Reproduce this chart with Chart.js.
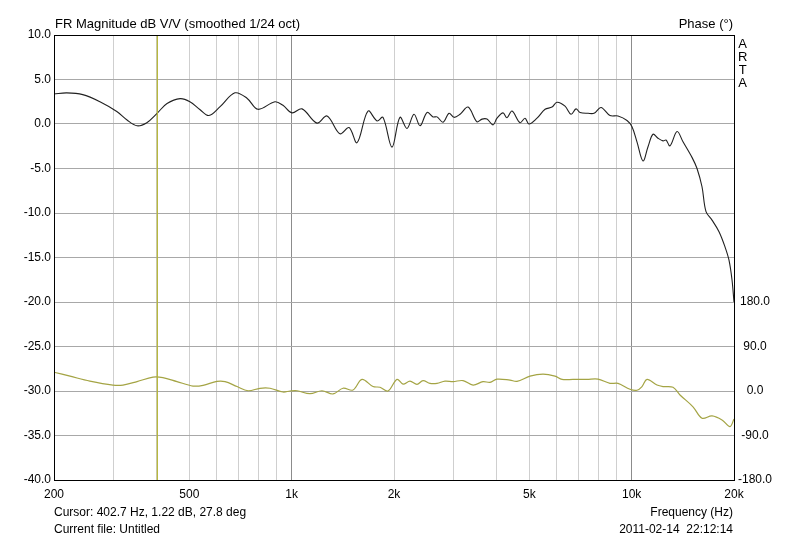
<!DOCTYPE html>
<html lang="en">
<head>
    <meta charset="UTF-8">
    <title>FR Magnitude</title>
    <script src="https://cdn.jsdelivr.net/npm/chart.js"></script>
    <style>
        body { margin: 0; background: #fff; }
        #wrap { position: relative; width: 800px; height: 540px; font-family: "Liberation Sans", Arial, sans-serif; font-size: 12px; color: #000; }
        #chart { position: absolute; left: 0; top: 0; }
        .txt { position: absolute; line-height: 14px; white-space: pre; }
        .big { font-size: 13px; }
    </style>
</head>
<body>
<div id="wrap">
    <canvas id="chart" width="800" height="540"></canvas>
    <div class="txt big" style="left:55px; top:17px;">FR Magnitude dB V/V (smoothed 1/24 oct)</div>
    <div class="txt big" style="right:67px; top:17px;">Phase (°)</div>
    <div class="txt big" style="left:738px; top:37px; line-height:13px; text-align:center;">A<br>R<br>T<br>A</div>
    <div class="txt" style="left:54px; top:505px;">Cursor: 402.7 Hz, 1.22 dB, 27.8 deg</div>
    <div class="txt" style="left:54px; top:522px;">Current file: Untitled</div>
    <div class="txt" style="right:67px; top:505px;">Frequency (Hz)</div>
    <div class="txt" style="right:67px; top:522px;">2011-02-14  22:12:14</div>
</div>

<script>
    // magnitude response (Hz, dB)
    const magFreq = [200, 218, 243, 273, 306, 328, 351, 375, 402, 430, 470, 502, 538, 571, 616, 681, 739, 796, 893, 943,
        1002, 1073, 1187, 1271, 1387, 1475, 1557, 1677, 1783, 1856, 1973, 2082, 2184, 2290, 2386, 2502, 2605, 2677, 2788, 2904,
        3004, 3128, 3303, 3508, 3630, 3754, 3912, 4018, 4185, 4298, 4447, 4695, 4856, 4989, 5268, 5563, 5831, 6032, 6369, 6633,
        6861, 7050, 7443, 7750, 8126, 8636, 9118, 9691, 10024, 10367, 10800, 11172, 11557, 11955, 12367, 12619, 12966, 13600, 14159, 15049,
        15569, 16104, 16548, 17234, 18070, 18816, 19334, 19730, 20000];
    const magDb = [3.37, 3.5, 3.3, 2.5, 1.4, 0.45, -0.2, 0.15, 1.2, 2.3, 2.85, 2.5, 1.6, 0.95, 1.95, 3.5, 2.9, 1.65, 2.5, 2.1,
        1.25, 1.7, 0.1, 0.9, -1.1, -0.4, -2.1, 1.45, 0.35, 0.75, -2.6, 0.75, -0.5, 1.1, -0.2, 1.3, 0.8, 0.8, 0.2, 1.2,
        0.75, 1.1, 1.9, 0.25, 0.55, 0.55, -0.1, 0.65, 1.25, 0.7, 1.45, 0.15, 0.65, 0.0, 0.65, 1.65, 1.9, 2.45, 2.0, 1.1,
        1.7, 1.3, 1.2, 1.2, 1.85, 0.95, 0.9, 0.4, -0.3, -2.0, -4.15, -2.55, -1.15, -1.6, -1.9, -1.8, -2.45, -0.85, -2.0, -3.75,
        -5.0, -7.05, -9.85, -10.8, -12.1, -13.8, -15.3, -17.5, -20.0];

    // phase (Hz, deg)
    const phaseFreq = [200, 223, 255, 298, 319, 351, 391, 418, 460, 513, 549, 603, 637, 691, 744, 807, 864, 943, 989, 1037,
        1132, 1228, 1323, 1416, 1515, 1610, 1735, 1819, 1920, 2041, 2126, 2229, 2337, 2434, 2552, 2677, 2825, 2983, 3192, 3416,
        3655, 3832, 4018, 4388, 4600, 5024, 5487, 5950, 6240, 6722, 7390, 7962, 8636, 9118, 9888, 10367, 10727, 11096, 11872, 12367,
        13232, 13875, 15151, 16104, 17234, 18440, 19464, 20000];
    const phaseDeg = [38, 30, 20, 12, 12, 19, 28, 27, 19, 10, 11.5, 19.5, 19, 9, 0.5, 5.5, 5.5, -2, 0, 0.5,
        -5.5, 0.5, -6, 5.5, 2, 23.5, 9, 7.5, 0, 23.5, 14, 20, 13.5, 21, 15.5, 15.5, 20, 19, 21, 12,
        19, 17.5, 24, 22, 19.5, 30, 34, 30, 23.5, 23.5, 23.5, 24, 15.5, 15.5, 3.5, 1.5, 9, 23.5, 12, 9,
        7.5, -8, -32, -55, -50.5, -58.6, -72, -56.6];

    const cursorHz = 402.7;

    // grid lines and labelled ticks on the frequency axis
    const freqTicks = [200, 300, 400, 500, 600, 700, 800, 900, 1000, 2000, 3000, 4000, 5000, 6000, 7000, 8000, 9000, 10000, 20000];
    const freqLabelValues = [200, 500, 1000, 2000, 5000, 10000, 20000];
    const freqLabelText = ['200', '500', '1k', '2k', '5k', '10k', '20k'];

    const toPoints = (xs, ys) => xs.map((x, i) => ({ x: x, y: ys[i] }));

    // black frame round the plot
    const framePlugin = {
        id: 'frame',
        afterDraw(chart) {
            const a = chart.chartArea, c = chart.ctx;
            c.save();
            c.strokeStyle = '#000';
            c.lineWidth = 1;
            c.strokeRect(Math.round(a.left) + 0.5, Math.round(a.top) + 0.5, Math.round(a.right - a.left), Math.round(a.bottom - a.top));
            c.restore();
        }
    };

    Chart.defaults.font.family = '"Liberation Sans", Arial, sans-serif';
    Chart.defaults.font.size = 12;
    Chart.defaults.color = '#000';

    new Chart(document.getElementById('chart'), {
        type: 'line',
        data: {
            datasets: [
                {
                    label: 'Cursor',
                    data: [{ x: cursorHz, y: -40 }, { x: cursorHz, y: 10 }],
                    borderColor: '#b4b432',
                    borderWidth: 1.2,
                    pointRadius: 0,
                    yAxisID: 'y'
                },
                {
                    label: 'Phase',
                    data: toPoints(phaseFreq, phaseDeg),
                    borderColor: '#a4a444',
                    borderWidth: 1.2,
                    pointRadius: 0,
                    tension: 0.35,
                    yAxisID: 'y2'
                },
                {
                    label: 'Magnitude',
                    data: toPoints(magFreq, magDb),
                    borderColor: '#202020',
                    borderWidth: 1.1,
                    pointRadius: 0,
                    tension: 0.35,
                    yAxisID: 'y'
                }
            ]
        },
        options: {
            responsive: false,
            animation: false,
            events: [],
            layout: { padding: { top: 35, right: 24, left: 0, bottom: 0 } },
            plugins: { legend: { display: false }, tooltip: { enabled: false } },
            scales: {
                x: {
                    type: 'logarithmic',
                    min: 200,
                    max: 20000,
                    afterBuildTicks: (s) => { s.ticks = freqTicks.map(v => ({ value: v })); },
                    afterFit: (s) => { s.height = 60; },
                    ticks: {
                        autoSkip: false,
                        maxRotation: 0,
                        padding: 7,
                        callback: (v) => {
                            const i = freqLabelValues.indexOf(v);
                            return i >= 0 ? freqLabelText[i] : '';
                        }
                    },
                    grid: {
                        drawTicks: false,
                        color: (c) => (c.tick.value === 1000 || c.tick.value === 10000) ? '#8c8c8c' : '#cfcfcf'
                    },
                    border: { display: false }
                },
                y: {
                    position: 'left',
                    min: -40,
                    max: 10,
                    afterFit: (s) => { s.width = 54; },
                    ticks: { stepSize: 5, padding: 3, callback: (v) => v.toFixed(1) },
                    grid: { drawTicks: false, color: '#a8a8a8' },
                    border: { display: false }
                },
                y2: {
                    position: 'right',
                    min: -180,
                    max: 720,
                    afterFit: (s) => { s.width = 42; },
                    ticks: {
                        stepSize: 90,
                        padding: 4,
                        crossAlign: 'center',
                        callback: (v) => v <= 180 ? v.toFixed(1) : ''
                    },
                    grid: { display: false, drawTicks: false },
                    border: { display: false }
                }
            }
        },
        plugins: [framePlugin]
    });
</script>
</body>
</html>
